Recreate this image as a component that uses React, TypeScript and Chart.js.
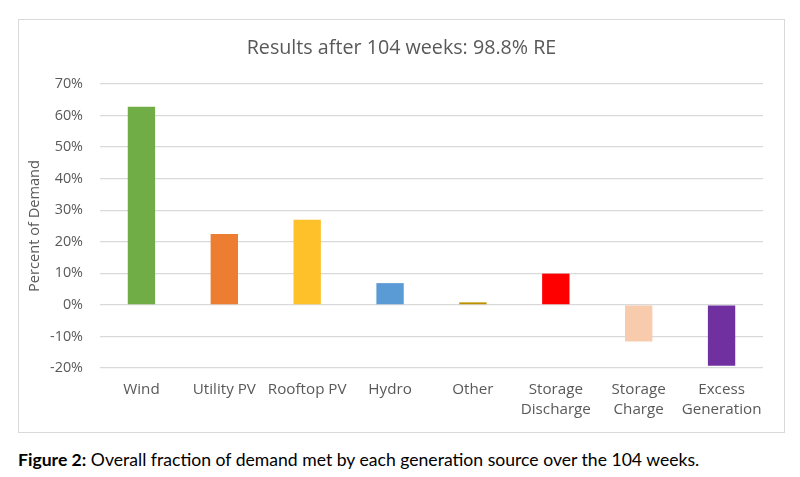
import React, { useEffect, useRef } from "react";
import { Chart, registerables } from "chart.js";

Chart.register(...registerables);

const categories: (string | string[])[] = [
  "Wind",
  "Utility PV",
  "Rooftop PV",
  "Hydro",
  "Other",
  ["Storage", "Discharge"],
  ["Storage", "Charge"],
  ["Excess", "Generation"],
];
const percentOfDemand = [62.8, 22.5, 27.0, 6.9, 0.8, 9.9, -11.6, -19.3];
const barColors = [
  "#70AD47",
  "#ED7D31",
  "#FFC12A",
  "#5B9BD5",
  "#BF9000",
  "#FF0000",
  "#F8CBAD",
  "#7030A0",
];
const yMin = -20;
const yMax = 70;
const yStep = 10;
const chartTitle = "Results after 104 weeks: 98.8% RE";
const yAxisTitle = "Percent of Demand";

const FONT = "'Open Sans', sans-serif";
const GRAY = "#595959";

export default function App() {
  const canvasRef = useRef<HTMLCanvasElement | null>(null);

  useEffect(() => {
    document.body.style.margin = "0";
    const ctx = canvasRef.current;
    if (!ctx) return;
    const chart = new Chart(ctx, {
      type: "bar",
      data: {
        labels: categories,
        datasets: [
          {
            data: percentOfDemand,
            backgroundColor: barColors,
            borderWidth: 0,
            categoryPercentage: 1,
            barPercentage: 0.33,
          },
        ],
      },
      options: {
        animation: false,
        responsive: true,
        maintainAspectRatio: false,
        layout: { padding: { left: 21, right: 21, top: 0, bottom: 0 } },
        plugins: {
          legend: { display: false },
          tooltip: { enabled: false },
          title: {
            display: true,
            text: chartTitle,
            color: GRAY,
            font: { family: FONT, size: 19.7, weight: "normal", lineHeight: 24 / 19.7 },
            padding: { top: 16, bottom: 24 },
          },
        },
        scales: {
          x: {
            grid: { display: false, drawTicks: false },
            border: { display: false },
            ticks: {
              color: GRAY,
              font: { family: FONT, size: 15.2, lineHeight: 20 / 15.2 },
              padding: 12,
              maxRotation: 0,
              autoSkip: false,
            },
          },
          y: {
            min: yMin,
            max: yMax,
            grid: { color: "#D9D9D9", lineWidth: 1.3, drawTicks: false },
            border: { display: false },
            ticks: {
              stepSize: yStep,
              color: GRAY,
              font: { family: FONT, size: 14.4 },
              padding: 17,
              callback: (v: any) => `${v}%`,
            },
            title: {
              display: true,
              text: yAxisTitle,
              color: GRAY,
              font: { family: FONT, size: 14.6, lineHeight: 18 / 14.6 },
              padding: { top: -14, bottom: 0 },
            },
            afterFit: (scale: any) => {
              scale.width = 60;
            },
          },
        },
      },
    });
    return () => chart.destroy();
  }, []);

  return (
    <div style={{ position: "relative", width: 800, height: 477, background: "#fff" }}>
      <div
        style={{
          position: "absolute",
          left: 18,
          top: 19,
          width: 765,
          height: 412,
          border: "1px solid #D9D9D9",
        }}
      >
        <canvas ref={canvasRef} />
      </div>
      <div
        style={{
          position: "absolute",
          left: 18,
          top: 449,
          fontFamily: "Lato, sans-serif",
          fontSize: 17.6,
          color: "#000",
          whiteSpace: "nowrap",
        }}
      >
        <b>Figure 2:</b> Overall fraction of demand met by each generation source over the 104 weeks.
      </div>
    </div>
  );
}
